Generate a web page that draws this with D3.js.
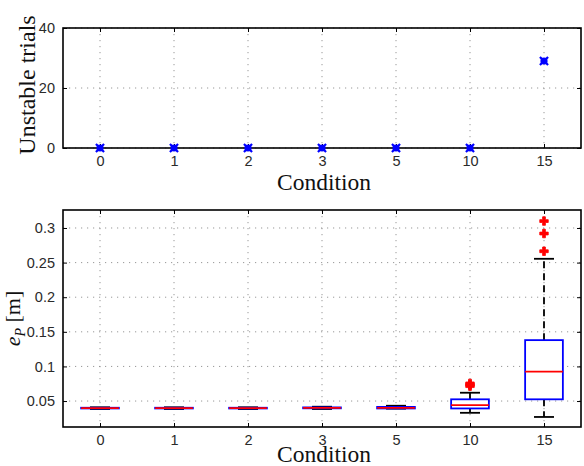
<!DOCTYPE html>
<html>
<head>
<meta charset="utf-8">
<script src="https://cdn.jsdelivr.net/npm/d3@7"></script>
<style>
  html, body { margin: 0; padding: 0; background: #fff; }
  svg { display: block; }
  .tick text { font-family: "Liberation Sans", Arial, sans-serif; font-size: 14.5px; fill: #2a2a2a; }
</style>
</head>
<body>
<svg id="chart" width="584" height="466"></svg>
<script>
// ---- data ----
const conditions = ["0", "1", "2", "3", "5", "10", "15"];
const unstableTrials = [0, 0, 0, 0, 0, 0, 29];
const unstableTicks = [0, 20, 40];

const whiskerLow  = [0.0385, 0.0385, 0.0385, 0.0385, 0.0390, 0.0330, 0.0270];
const q1          = [0.0393, 0.0393, 0.0393, 0.0395, 0.0393, 0.0393, 0.0525];
const medians     = [0.0398, 0.0398, 0.0398, 0.0400, 0.0400, 0.0440, 0.0925];
const q3          = [0.0403, 0.0403, 0.0403, 0.0408, 0.0415, 0.0525, 0.1380];
const whiskerHigh = [0.0410, 0.0410, 0.0410, 0.0418, 0.0432, 0.0620, 0.2555];
const outliers    = [[], [], [], [], [], [0.0715, 0.0735, 0.0755], [0.2664, 0.2920, 0.3100]];
const errorTicks  = [0.05, 0.1, 0.15, 0.2, 0.25, 0.3];
const errorTickLabels = ["0.05", "0.1", "0.15", "0.2", "0.25", "0.3"];

// ---- layout ----
const svg = d3.select("#chart");
const L = 63, R = 581;
const top1 = 28, bot1 = 148;
const top2 = 210, bot2 = 427;
const serif = "'Liberation Serif', 'Times New Roman', serif";

const x = d3.scalePoint().domain(conditions).range([L, R]).padding(0.5);
const step = x.step();

function frame(g, y0, y1, yScale, yTicks, yFmt) {
  const grid = g.append("g");
  conditions.forEach(c => {
    grid.append("line").attr("x1", x(c)).attr("x2", x(c)).attr("y1", y0).attr("y2", y1)
      .attr("stroke", "#8c8c8c").attr("stroke-width", 0.9).attr("stroke-dasharray", "1.2,4.8");
  });
  yTicks.forEach(t => {
    grid.append("line").attr("x1", L).attr("x2", R).attr("y1", yScale(t)).attr("y2", yScale(t))
      .attr("stroke", "#8c8c8c").attr("stroke-width", 0.9).attr("stroke-dasharray", "1.2,4.8");
  });
  const ax = g.append("g").attr("transform", `translate(0,${y1})`)
    .call(d3.axisBottom(x).tickSize(-4).tickPadding(8));
  const axTop = g.append("g").attr("transform", `translate(0,${y0})`)
    .call(d3.axisTop(x).tickSize(-4).tickFormat(""));
  const ay = g.append("g").attr("transform", `translate(${L},0)`)
    .call(d3.axisLeft(yScale).tickValues(yTicks).tickSize(-4).tickPadding(8).tickFormat(yFmt));
  const ayR = g.append("g").attr("transform", `translate(${R},0)`)
    .call(d3.axisRight(yScale).tickValues(yTicks).tickSize(-4).tickFormat(""));
  [ax, axTop, ay, ayR].forEach(a => {
    a.select(".domain").remove();
    a.selectAll(".tick line").attr("stroke", "#000").attr("stroke-width", 1);
  });
  g.append("rect").attr("x", L).attr("y", y0).attr("width", R - L).attr("height", y1 - y0)
    .attr("fill", "none").attr("stroke", "#000").attr("stroke-width", 1.6);
}

// ---- top chart ----
const g1 = svg.append("g");
const y1s = d3.scaleLinear().domain([0, 40]).range([bot1, top1]);
frame(g1, top1, bot1, y1s, unstableTicks, d3.format("d"));
const mk = g1.append("g");
conditions.forEach((c, i) => {
  const cx = x(c), cy = y1s(unstableTrials[i]);
  mk.append("circle").attr("cx", cx).attr("cy", cy).attr("r", 3.6).attr("fill", "#0000ff");
  mk.append("path").attr("d", d3.symbol(d3.symbolX, 45)())
    .attr("transform", `translate(${cx},${cy})`)
    .attr("stroke", "#0000ff").attr("stroke-width", 2.2).attr("fill", "none");
});
g1.append("text").attr("x", (L + R) / 2 + 2).attr("y", 190).attr("text-anchor", "middle")
  .attr("font-family", serif).attr("font-size", 23.5).attr("fill", "#111").text("Condition");
g1.append("text").attr("transform", `translate(35,${(top1 + bot1) / 2 - 3}) rotate(-90)`)
  .attr("text-anchor", "middle").attr("font-family", serif).attr("font-size", 24).attr("fill", "#111")
  .text("Unstable trials");

// ---- bottom chart ----
const g2 = svg.append("g");
const y2s = d3.scaleLinear().domain([0.0125, 0.326]).range([bot2, top2]);
frame(g2, top2, bot2, y2s, errorTicks, (d, i) => errorTickLabels[i]);
const boxW = step * 0.51, capW = step * 0.27;
const bx = g2.append("g");
conditions.forEach((c, i) => {
  const cx = x(c);
  bx.append("line").attr("x1", cx).attr("x2", cx).attr("y1", y2s(q3[i])).attr("y2", y2s(whiskerHigh[i]))
    .attr("stroke", "#000").attr("stroke-width", 1.8).attr("stroke-dasharray", "7,5");
  bx.append("line").attr("x1", cx).attr("x2", cx).attr("y1", y2s(q1[i])).attr("y2", y2s(whiskerLow[i]))
    .attr("stroke", "#000").attr("stroke-width", 1.8).attr("stroke-dasharray", "7,5");
  [whiskerHigh[i], whiskerLow[i]].forEach(v => {
    bx.append("line").attr("x1", cx - capW / 2).attr("x2", cx + capW / 2)
      .attr("y1", y2s(v)).attr("y2", y2s(v)).attr("stroke", "#000").attr("stroke-width", 1.8);
  });
  bx.append("rect").attr("x", cx - boxW / 2).attr("width", boxW)
    .attr("y", y2s(q3[i])).attr("height", Math.max(0.5, y2s(q1[i]) - y2s(q3[i])))
    .attr("fill", "#fff").attr("stroke", "#0000ff").attr("stroke-width", 1.8);
  bx.append("line").attr("x1", cx - boxW / 2).attr("x2", cx + boxW / 2)
    .attr("y1", y2s(medians[i])).attr("y2", y2s(medians[i]))
    .attr("stroke", "#ff0000").attr("stroke-width", 1.8);
  outliers[i].forEach(v => {
    bx.append("path").attr("d", d3.symbol(d3.symbolCross, 40)())
      .attr("transform", `translate(${cx},${y2s(v)})`)
      .attr("fill", "#ff0000").attr("stroke", "#ff0000").attr("stroke-width", 0.8);
  });
});
g2.append("text").attr("x", (L + R) / 2 + 2).attr("y", 462).attr("text-anchor", "middle")
  .attr("font-family", serif).attr("font-size", 23.5).attr("fill", "#111").text("Condition");
const yl = g2.append("text").attr("transform", `translate(20,${(top2 + bot2) / 2}) rotate(-90)`)
  .attr("text-anchor", "middle").attr("font-family", serif).attr("font-size", 22).attr("fill", "#111");
yl.append("tspan").attr("font-style", "italic").text("e");
yl.append("tspan").attr("font-style", "italic").attr("font-size", 14).attr("dy", 5).text("P");
yl.append("tspan").attr("dy", -5).text(" [m]");
</script>
</body>
</html>
